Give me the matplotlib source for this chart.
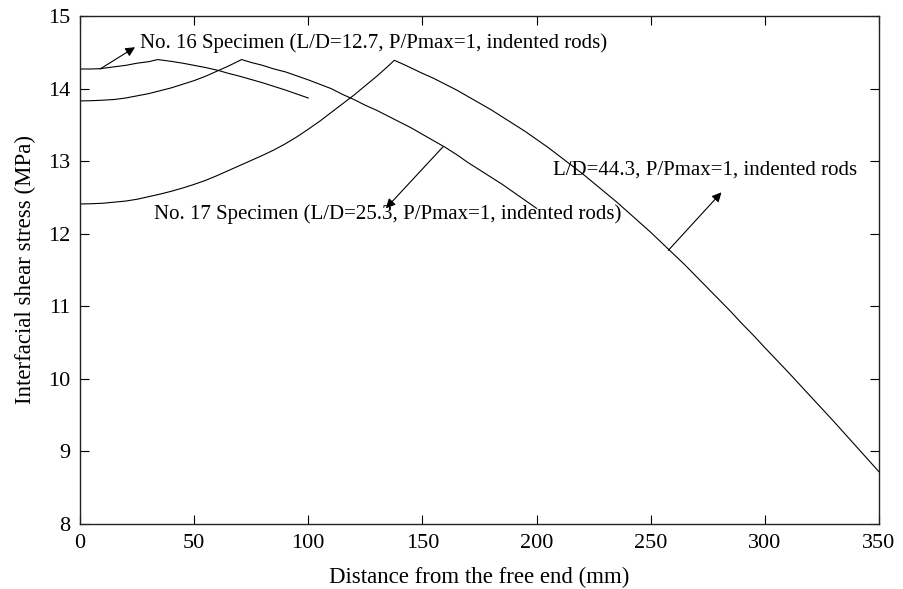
import matplotlib
matplotlib.use("Agg")
import matplotlib.pyplot as plt

plt.rcParams['font.family'] = ['Liberation Serif', 'DejaVu Serif']

# Curve data (distance in mm, stress in MPa)
x_ld127 = [0, 5, 9, 15, 20, 25, 30, 34, 40, 45, 50, 55, 60.6, 65, 70, 75,
           80, 85, 90, 95, 100]
y_ld127 = [14.27, 14.27, 14.275, 14.30, 14.32, 14.35, 14.37, 14.40, 14.375,
           14.35, 14.32, 14.29, 14.25, 14.21, 14.17, 14.125, 14.08, 14.03,
           13.98, 13.925, 13.87]

x_ld253 = [0, 5, 10, 15, 20, 25, 30, 35, 40, 45, 50, 55, 60, 65, 70.8,
           75, 80, 85, 90, 96.4, 100, 105, 110, 115, 120, 125, 130, 135,
           140, 145, 150, 155, 160, 165, 170, 175, 180, 185, 190, 195, 200]
y_ld253 = [13.83, 13.833, 13.84, 13.85, 13.87, 13.90, 13.93, 13.97, 14.01,
           14.06, 14.11, 14.17, 14.24, 14.31, 14.40,
           14.36, 14.32, 14.27, 14.23, 14.16, 14.12, 14.06, 14.00, 13.92,
           13.85, 13.77, 13.70, 13.62, 13.54, 13.46, 13.37, 13.28, 13.19,
           13.09, 12.98, 12.88, 12.78, 12.68, 12.57, 12.46, 12.35]

x_ld443 = [0, 5, 10, 15, 20, 25, 30, 35, 40, 45, 50, 55, 60, 65, 70, 75,
           80, 85, 90, 95, 100, 105, 110, 115, 120, 125, 130, 135, 137.7,
           142, 146, 150, 155, 160, 165, 170, 175, 180, 185, 190, 195, 200,
           205, 210, 215, 220, 225, 230, 235, 240, 245, 250, 255, 260, 265,
           270, 275, 280, 285, 290, 295, 300, 310, 320, 330, 340, 350]
y_ld443 = [12.41, 12.413, 12.42, 12.435, 12.45, 12.475, 12.51, 12.545,
           12.585, 12.63, 12.68, 12.735, 12.80, 12.87, 12.94, 13.01, 13.08,
           13.155, 13.24, 13.335, 13.44, 13.55, 13.67, 13.79, 13.91, 14.04,
           14.17, 14.31, 14.39,
           14.33, 14.27, 14.21, 14.14, 14.06, 13.98, 13.89, 13.80, 13.71,
           13.61, 13.51, 13.41, 13.30, 13.19, 13.07, 12.95, 12.83, 12.70,
           12.57, 12.44, 12.30, 12.16, 12.02, 11.87, 11.72, 11.57, 11.41,
           11.25, 11.09, 10.93, 10.76, 10.60, 10.43, 10.10, 9.76, 9.42,
           9.07, 8.72]

fig = plt.figure(figsize=(9.04, 5.89), dpi=100)
ax = fig.add_axes([0.0885, 0.1104, 0.8838, 0.8624])

for xs, ys in [(x_ld127, y_ld127), (x_ld253, y_ld253), (x_ld443, y_ld443)]:
    ax.plot(xs, ys, color='black', lw=0.8)

ax.set_xlim(0, 350)
ax.set_ylim(8, 15)
ax.set_xticks(range(0, 351, 50))
ax.set_yticks(range(8, 16))
ax.tick_params(direction='in', length=6.5, width=0.8, top=True, right=True,
               labelsize=16, pad=7)
for s in ax.spines.values():
    s.set_linewidth(1.0)
    s.set_color('#222222')

ax.set_xlabel('Distance from the free end (mm)', fontsize=16.5, labelpad=10)
ax.set_ylabel('Interfacial shear stress (MPa)', fontsize=16.5, labelpad=9)

# annotations
arrow = dict(arrowstyle='-|>', color='black', lw=0.8, mutation_scale=14,
             shrinkA=0, shrinkB=0)
ax.text(26.3, 14.63, 'No. 16 Specimen (L/D=12.7, P/Pmax=1, indented rods)',
        fontsize=15, va='center', ha='left')
ax.annotate('', xy=(24.1, 14.57), xytext=(8.8, 14.27), arrowprops=arrow)

ax.text(32.2, 12.27, 'No. 17 Specimen (L/D=25.3, P/Pmax=1, indented rods)',
        fontsize=15, va='center', ha='left')
ax.annotate('', xy=(134.0, 12.35), xytext=(159.1, 13.20), arrowprops=arrow)

ax.text(207.3, 12.88, 'L/D=44.3, P/Pmax=1, indented rods',
        fontsize=15, va='center', ha='left')
ax.annotate('', xy=(281.0, 12.57), xytext=(257.7, 11.77), arrowprops=arrow)

fig.savefig('out.png', dpi=100)
